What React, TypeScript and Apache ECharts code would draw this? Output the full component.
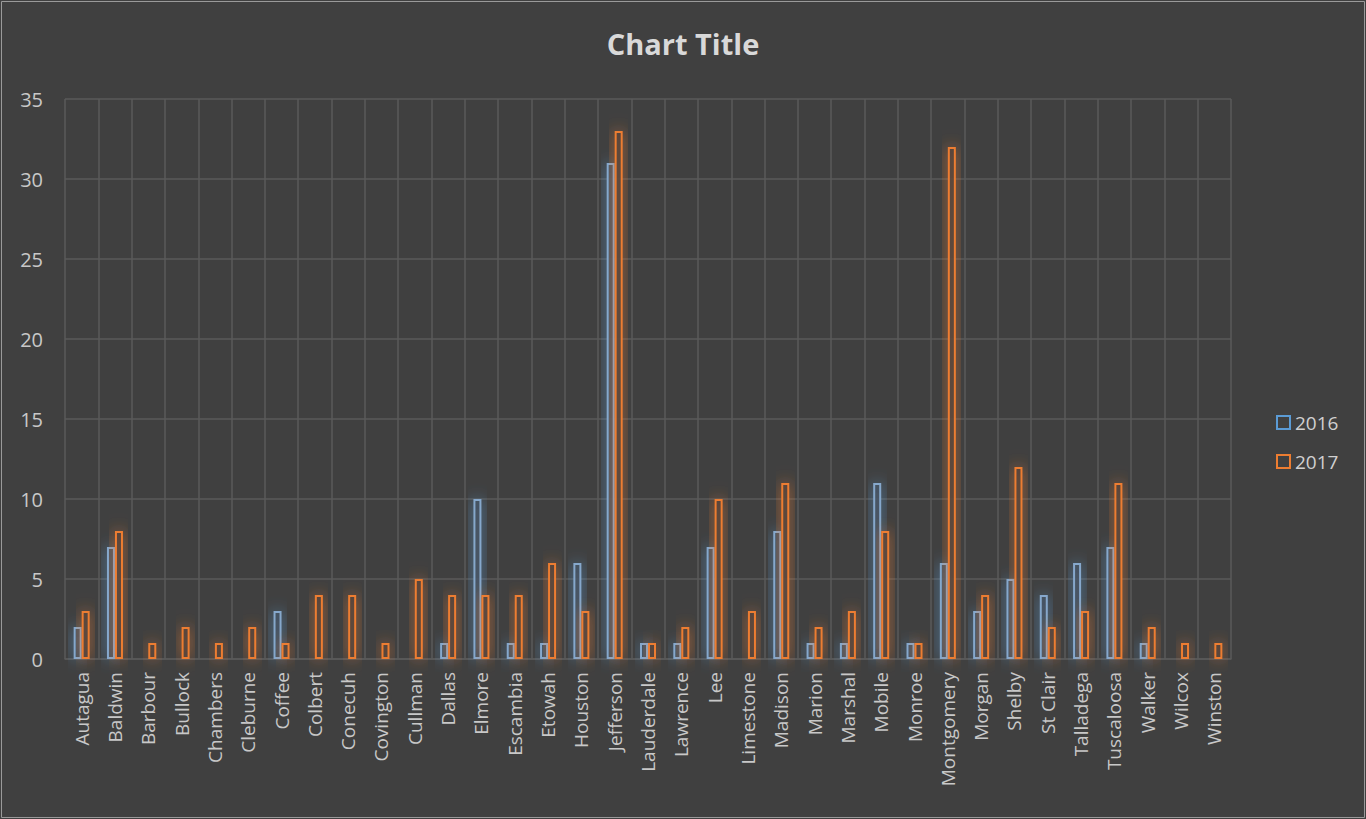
import React, { useEffect, useRef } from "react";
import * as echarts from "echarts";

const categories = ["Autagua","Baldwin","Barbour","Bullock","Chambers","Cleburne","Coffee","Colbert","Conecuh","Covington","Cullman","Dallas","Elmore","Escambia","Etowah","Houston","Jefferson","Lauderdale","Lawrence","Lee","Limestone","Madison","Marion","Marshal","Mobile","Monroe","Montgomery","Morgan","Shelby","St Clair","Talladega","Tuscaloosa","Walker","Wilcox","Winston"];
const values2016 = [2,7,0,0,0,0,3,0,0,0,0,1,10,1,1,6,31,1,1,7,0,8,1,1,11,1,6,3,5,4,6,7,1,0,0];
const values2017 = [3,8,1,2,1,2,1,4,4,1,5,4,4,4,6,3,33,1,2,10,3,11,2,3,8,1,32,4,12,2,3,11,2,1,1];
const seriesNames = ["2016", "2017"];
const yTicks = { min: 0, max: 35, interval: 5 };

export default function App() {
  const ref = useRef<HTMLDivElement>(null);
  useEffect(() => {
    if (!ref.current) return;
    const chart = echarts.init(ref.current, undefined, { renderer: "svg" });
    const font = "'Open Sans', 'Noto Sans', sans-serif";
    const mkSeries = (name: string, data: number[], color: string, fill: string, glow: string) => ({
      name,
      type: "bar",
      data: data.map((v) => (v === 0 ? null : v)),
      barWidth: 8,
      barGap: "0%",
      itemStyle: {
        color: fill,
        borderColor: color,
        borderWidth: 2,
        shadowBlur: 16,
        shadowColor: glow,
      },
    });
    chart.setOption({
      animation: false,
      backgroundColor: "#404040",
      title: {
        text: "Chart Title",
        left: "center",
        top: 24,
        textStyle: { color: "#d9d9d9", fontSize: 29, fontWeight: "bold", fontFamily: font },
      },
      legend: {
        orient: "vertical",
        left: 1271,
        top: 408,
        itemGap: 20,
        itemWidth: 13,
        itemHeight: 13,
        icon: "rect",
        textStyle: { color: "#d0d0d0", fontSize: 19, fontFamily: font },
        data: [
          { name: seriesNames[0], itemStyle: { color: "rgba(0,0,0,0)", borderColor: "#5B9BD5", shadowBlur: 0 } },
          { name: seriesNames[1], itemStyle: { color: "rgba(0,0,0,0)", borderColor: "#ED7D31", shadowBlur: 0 } },
        ],
      },
      grid: { left: 65, right: 135, top: 99, bottom: 160 },
      xAxis: {
        type: "category",
        data: categories,
        axisLine: { show: true, lineStyle: { color: "#5a5a5a", width: 1.5 } },
        axisTick: { show: false },
        splitLine: { show: true, lineStyle: { color: "#5a5a5a", width: 1.5 } },
        axisLabel: { color: "#c8c8c8", fontSize: 19, rotate: 90, margin: 13, interval: 0, fontFamily: font },
      },
      yAxis: {
        type: "value",
        min: yTicks.min,
        max: yTicks.max,
        interval: yTicks.interval,
        axisLine: { show: false },
        axisTick: { show: false },
        splitLine: { lineStyle: { color: "#5a5a5a", width: 1.5 } },
        axisLabel: { color: "#c8c8c8", fontSize: 20, margin: 22, fontFamily: font },
      },
      series: [
        mkSeries(seriesNames[0], values2016, "#86a8cc", "rgba(70,82,96,0.85)", "rgba(91,155,213,0.75)"),
        mkSeries(seriesNames[1], values2017, "#ED7D31", "rgba(82,68,60,0.85)", "rgba(237,125,49,0.75)"),
      ],
      graphic: [
        {
          type: "rect",
          shape: { x: 1.5, y: 1.5, width: 1363, height: 816 },
          style: { fill: "none", stroke: "#9a9a9a", lineWidth: 1 },
          silent: true,
        },
      ],
    });
    return () => chart.dispose();
  }, []);
  return (
    <div
      ref={ref}
      style={{ position: "fixed", left: 0, top: 0, width: 1366, height: 819 }}
    />
  );
}
